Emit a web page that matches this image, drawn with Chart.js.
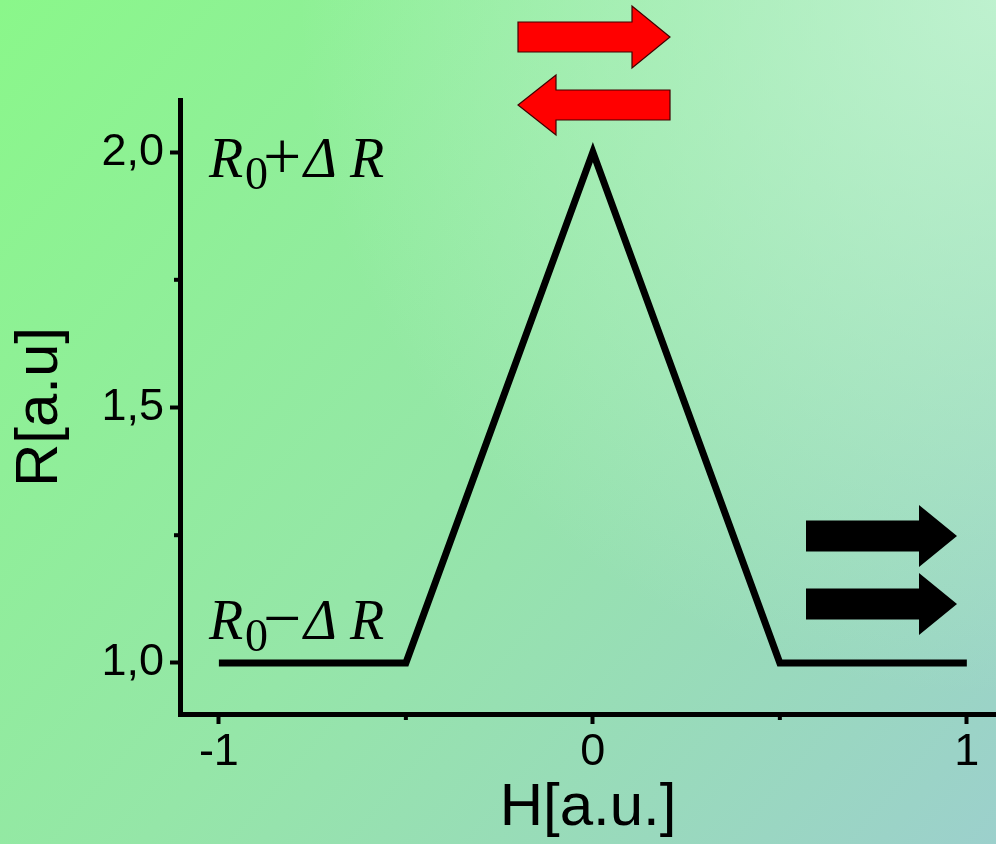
<!DOCTYPE html>
<html>
<head>
<meta charset="utf-8">
<script src="https://cdn.jsdelivr.net/npm/chart.js@4"></script>
<style>
  html, body { margin: 0; padding: 0; overflow: hidden; }
  canvas { display: block; }
</style>
</head>
<body>
<canvas id="myChart" width="996" height="844"></canvas>
<script>
// data
const hValues = [-1, -0.5, 0, 0.5, 1];
const rValues = [1, 1, 2, 1, 1];
const xTicks = [-1, 0, 1];
const xTickLabels = ["-1", "0", "1"];
const yTicks = [1, 1.5, 2];
const yTickLabels = ["1,0", "1,5", "2,0"];
const xMinorTicks = [-0.5, 0.5];
const yMinorTicks = [1.25, 1.75];

const background = {
  id: "background",
  beforeDraw(chart) {
    const c = chart.ctx;
    const w = chart.width, h = chart.height;
    let g = c.createLinearGradient(0, 0, w, h);
    g.addColorStop(0, "#8af78a");
    g.addColorStop(0.5, "#95e6a8");
    g.addColorStop(1, "#9cd0cc");
    c.save();
    c.fillStyle = g;
    c.fillRect(0, 0, w, h);
    const r = c.createRadialGradient(w, 0, 0, w, 0, w * 0.7);
    r.addColorStop(0, "rgba(200,245,215,0.8)");
    r.addColorStop(1, "rgba(200,245,215,0)");
    c.fillStyle = r;
    c.fillRect(0, 0, w, h);
    c.restore();
  },
};

function arrow(c, x0, x1, yMid, bodyHalf, headHalf, headLen, dir, fill, stroke) {
  // dir 1 = pointing right, -1 = pointing left
  const tip = dir > 0 ? x1 : x0;
  const tail = dir > 0 ? x0 : x1;
  const neck = tip - dir * headLen;
  c.beginPath();
  c.moveTo(tail, yMid - bodyHalf);
  c.lineTo(neck, yMid - bodyHalf);
  c.lineTo(neck, yMid - headHalf);
  c.lineTo(tip, yMid);
  c.lineTo(neck, yMid + headHalf);
  c.lineTo(neck, yMid + bodyHalf);
  c.lineTo(tail, yMid + bodyHalf);
  c.closePath();
  c.fillStyle = fill;
  c.fill();
  if (stroke) {
    c.lineWidth = 1.2;
    c.strokeStyle = stroke;
    c.stroke();
  }
}

function rLabel(c, x, y, sign) {
  c.fillStyle = "#000";
  c.textBaseline = "alphabetic";
  c.textAlign = "left";
  c.font = "italic 56px 'Liberation Serif'";
  c.fillText("R", x, y);
  c.font = "46px 'Liberation Serif'";
  c.fillText("0", x + 36, y + 12);
  c.font = "68px 'Liberation Serif'";
  c.fillText(sign, x + 54, y + 2);
  c.font = "italic 56px 'Liberation Serif'";
  c.fillText("\u0394", x + 95, y);
  c.fillText("R", x + 141, y);
}

const extras = {
  id: "extras",
  afterDraw(chart) {
    const c = chart.ctx;
    const xs = chart.scales.x, ys = chart.scales.y;
    c.save();
    // minor ticks
    c.strokeStyle = "#000";
    c.lineWidth = 4;
    xMinorTicks.forEach(v => {
      const px = xs.getPixelForValue(v);
      c.beginPath();
      c.moveTo(px, ys.bottom);
      c.lineTo(px, ys.bottom + 6);
      c.stroke();
    });
    yMinorTicks.forEach(v => {
      const py = ys.getPixelForValue(v);
      c.beginPath();
      c.moveTo(xs.left, py);
      c.lineTo(xs.left - 6, py);
      c.stroke();
    });
    // arrows
    arrow(c, 518, 670, 37, 15, 31, 38, 1, "#ff0000", "#400000");
    arrow(c, 518, 670, 105, 15, 30, 38, -1, "#ff0000", "#400000");
    arrow(c, 806, 957, 536, 15.5, 31, 38, 1, "#000000", null);
    arrow(c, 806, 957, 604, 15.5, 31, 38, 1, "#000000", null);
    // labels
    rLabel(c, 209, 177, "+");
    rLabel(c, 209, 639, "\u2212");
    c.restore();
  },
};

function draw() {
  const ctx = document.getElementById("myChart").getContext("2d");
  const myChart = new Chart(ctx, {
    type: "line",
    data: {
      datasets: [
        {
          data: hValues.map((h, i) => ({ x: h, y: rValues[i] })),
          borderColor: "#000",
          borderWidth: 7,
          borderJoinStyle: "miter",
          borderCapStyle: "butt",
          pointRadius: 0,
          tension: 0,
          fill: false,
        },
      ],
    },
    options: {
      responsive: false,
      animation: false,
      layout: { padding: { left: 0, right: 0, top: 100, bottom: 0 } },
      plugins: { legend: { display: false }, tooltip: { enabled: false } },
      scales: {
        x: {
          type: "linear",
          min: -1.104,
          max: 1.078,
          afterBuildTicks: s => { s.ticks = xTicks.map(v => ({ value: v })); },
          afterFit: s => { s.height = 130; },
          border: { display: true, color: "#000", width: 5 },
          grid: { drawOnChartArea: false, tickLength: 10, tickWidth: 4, tickColor: "#000" },
          ticks: {
            color: "#000",
            padding: 2,
            maxRotation: 0,
            font: { family: "'Liberation Sans', Arial", size: 45 },
            callback: (v) => xTickLabels[xTicks.indexOf(v)],
          },
          title: {
            display: true,
            text: "H[a.u.]",
            color: "#000",
            font: { family: "'Liberation Sans', Arial", size: 60 },
            padding: 0,
          },
        },
        y: {
          type: "linear",
          min: 0.9,
          max: 2.102,
          afterBuildTicks: s => { s.ticks = yTicks.map(v => ({ value: v })); },
          afterFit: s => { s.width = 180; },
          border: { display: true, color: "#000", width: 5 },
          grid: { drawOnChartArea: false, tickLength: 10, tickWidth: 4, tickColor: "#000" },
          ticks: {
            color: "#000",
            padding: 6,
            font: { family: "'Liberation Sans', Arial", size: 45 },
            callback: (v) => yTickLabels[yTicks.indexOf(v)],
          },
          title: {
            display: true,
            text: "R[a.u]",
            color: "#000",
            font: { family: "'Liberation Sans', Arial", size: 60 },
            padding: 4,
          },
        },
      },
    },
    plugins: [background, extras],
  });
}

Promise.all([
  document.fonts.load("45px 'Liberation Sans'"),
  document.fonts.load("52px 'Liberation Serif'"),
  document.fonts.load("italic 52px 'Liberation Serif'"),
]).then(draw, draw);
</script>
</body>
</html>
